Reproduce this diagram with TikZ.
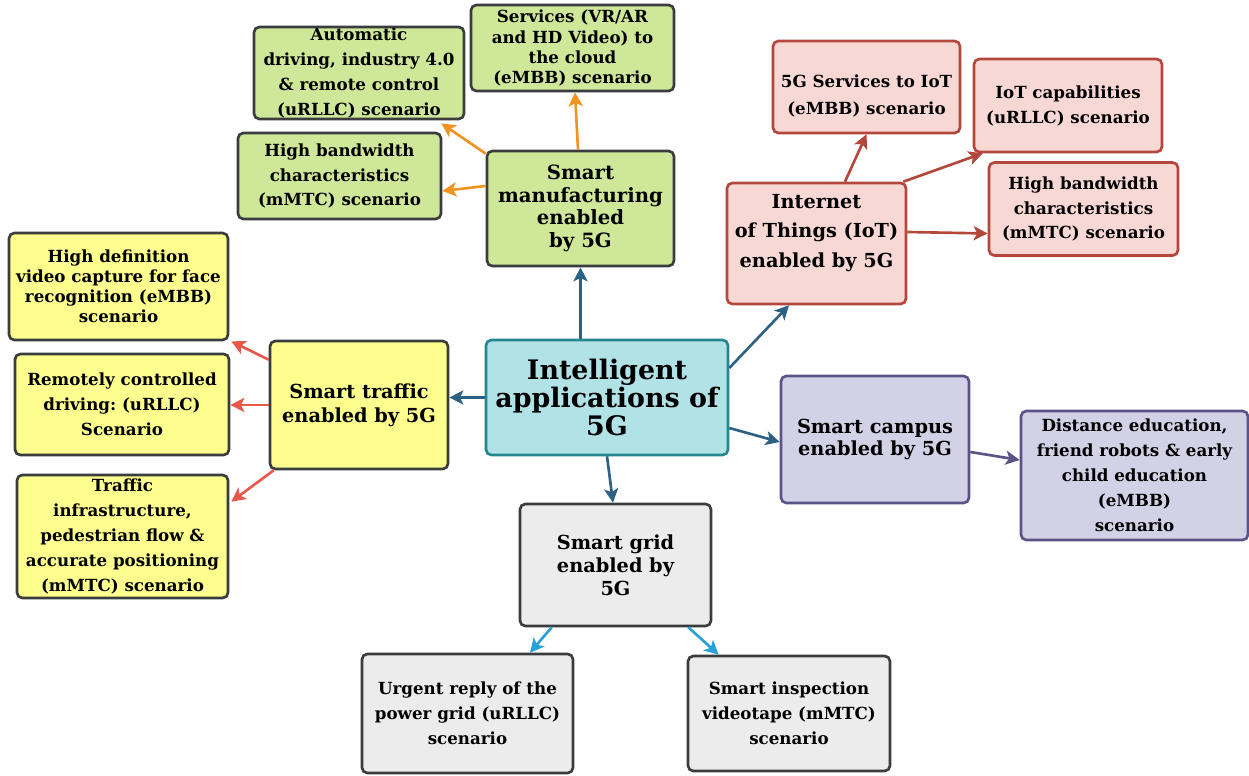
\documentclass[tikz,border=0pt]{standalone}
\usepackage{fontspec}
\setmainfont{DejaVu Serif}
\usetikzlibrary{arrows.meta,calc}
\definecolor{gfill}{HTML}{CFE798}
\definecolor{yfill}{HTML}{FEFE8E}
\definecolor{pfill}{HTML}{F8D8D4}
\definecolor{cfill}{HTML}{B1E2E6}
\definecolor{vfill}{HTML}{D3D1E5}
\definecolor{sfill}{HTML}{ECECEC}
\definecolor{dgray}{HTML}{3A3C3E}
\definecolor{redb}{HTML}{B4473B}
\definecolor{tealb}{HTML}{24878E}
\definecolor{purb}{HTML}{5B5287}
\definecolor{abl}{HTML}{2D6184}
\definecolor{aor}{HTML}{F2931F}
\definecolor{asal}{HTML}{E8584A}
\definecolor{alb}{HTML}{28A0D9}
\frenchspacing
\begin{document}
\begin{tikzpicture}[x=0.02cm,y=-0.02cm,
  box/.style={draw, rounded corners=3pt, line width=1.5pt, inner sep=0pt, align=center},
  leaf/.style={box, font=\bfseries\fontsize{9.5}{14.2}\selectfont},
  tight/.style={font=\bfseries\fontsize{9.5}{11.4}\selectfont},
  gbox/.style={fill=gfill, draw=dgray},
  ybox/.style={fill=yfill, draw=dgray},
  rbox/.style={fill=pfill, draw=redb},
  vbox/.style={fill=vfill, draw=purb},
  sbox/.style={fill=sfill, draw=dgray},
  txt/.style={inner sep=0pt, align=center},
  arr/.style={line width=1.5pt, -{Stealth[length=8pt,width=8pt,inset=2pt]}},
]
\useasboundingbox (0,0) rectangle (1249,776);

% central
\node[box, fill=cfill, draw=tealb, minimum width=4.84cm, minimum height=2.3cm,
  font=\bfseries\fontsize{15.3}{16}\selectfont] (cent) at (607,397.5)
  {Intelligent\\applications of\\5G};

% manufacturing group
\node[box, gbox, minimum width=3.74cm, minimum height=2.3cm,
  font=\bfseries\fontsize{11.2}{12.8}\selectfont] (manu) at (580.5,208.5)
  {Smart\\manufacturing\\enabled\\by 5G};
\node[leaf, gbox, minimum width=4.2cm, minimum height=1.84cm] (auto) at (359,73)
  {Automatic\\driving, industry 4.0\\\& remote control\\(uRLLC) scenario};
\node[leaf, gbox, tight, minimum width=4.06cm, minimum height=1.72cm] (serv) at (572.5,48)
  {Services (VR/AR\\and HD Video) to\\the cloud\\(eMBB) scenario};
\node[leaf, gbox, minimum width=4.06cm, minimum height=1.72cm] (hbg) at (339.5,176)
  {High bandwidth\\characteristics\\(mMTC) scenario};

% IoT group
\node[box, rbox, minimum width=3.58cm, minimum height=2.42cm] (iot) at (816.5,243.5) {};
\node[txt, font=\bfseries\fontsize{11}{17}\selectfont] (iott) at (816.5,233)
  {Internet\\of Things (IoT)\\enabled by 5G};
\node[leaf, rbox, minimum width=3.74cm, minimum height=1.84cm] (iots) at (866.5,87) {};
\node[txt, font=\bfseries\fontsize{9.5}{15}\selectfont] (iotst) at (866.5,96)
  {5G Services to IoT\\(eMBB) scenario};
\node[leaf, rbox, minimum width=3.76cm, minimum height=1.86cm] (iotc) at (1068,105.5)
  {IoT capabilities\\(uRLLC) scenario};
\node[leaf, rbox, minimum width=3.78cm, minimum height=1.86cm] (hbr) at (1083.5,209)
  {High bandwidth\\characteristics\\(mMTC) scenario};

% traffic group
\node[box, ybox, minimum width=3.56cm, minimum height=2.56cm,
  font=\bfseries\fontsize{11}{13.6}\selectfont] (traf) at (359,405)
  {Smart traffic\\enabled by 5G};
\node[leaf, ybox, tight, minimum width=4.38cm, minimum height=2.14cm] (hdv) at (118.5,286.5)
  {High definition\\video capture for face\\recognition (eMBB)\\scenario};
\node[leaf, ybox, minimum width=4.28cm, minimum height=2.02cm] (rem) at (122,404.5)
  {Remotely controlled\\driving: (uRLLC)\\Scenario};
\node[leaf, ybox, minimum width=4.22cm, minimum height=2.46cm] (tinf) at (122.5,536.5)
  {Traffic\\infrastructure,\\pedestrian flow \&\\accurate positioning\\(mMTC) scenario};

% campus group
\node[box, vbox, minimum width=3.76cm, minimum height=2.54cm,
  font=\bfseries\fontsize{11}{13}\selectfont] (camp) at (875,439.5)
  {Smart campus\\enabled by 5G};
\node[leaf, vbox, minimum width=4.54cm, minimum height=2.58cm] (dist) at (1134.5,475.5)
  {Distance education,\\friend robots \& early\\child education\\(eMBB)\\scenario};

% grid group
\node[box, sbox, minimum width=3.82cm, minimum height=2.44cm,
  font=\bfseries\fontsize{11}{13}\selectfont] (grid) at (615.5,565)
  {Smart grid\\enabled by\\5G};
\node[leaf, sbox, minimum width=4.22cm, minimum height=2.38cm] (urg) at (467.5,713.5)
  {Urgent reply of the\\power grid (uRLLC)\\scenario};
\node[leaf, sbox, minimum width=4.04cm, minimum height=2.3cm] (insp) at (789,713.5)
  {Smart inspection\\videotape (mMTC)\\scenario};

% connectors from centre
\draw[arr, abl] (manu.south |- cent.north) -- (manu.south);
\draw[arr, abl] ([yshift=0.59cm]cent.east) -- ([xshift=-0.55cm]iot.south);
\draw[arr, abl] (cent.west) -- (cent.west -| traf.east);
\draw[arr, abl] ([yshift=-0.61cm]cent.east) -- ([yshift=-0.05cm]camp.west);
\draw[arr, abl] (cent.south) -- ([xshift=-0.05cm]grid.north);

% manufacturing
\draw[arr, aor] ([yshift=-0.08cm]manu.north west) -- ([shift={(-0.48cm,-0.06cm)}]auto.south east);
\draw[arr, aor] ([yshift=0.45cm]manu.west) -- ([yshift=-0.3cm]hbg.east);
\draw[arr, aor] ([xshift=-0.05cm]manu.north) -- ([xshift=0.05cm]serv.south);

% IoT
\draw[arr, redb] ([xshift=0.57cm]iot.north) -- (iots.south);
\draw[arr, redb] ([xshift=-0.08cm]iot.north east) -- ([xshift=0.2cm]iotc.south west);
\draw[arr, redb] ([yshift=0.23cm]iot.east) -- ([yshift=-0.49cm]hbr.west);

% traffic
\draw[arr, asal] ([yshift=-0.4cm]traf.north west) -- ([xshift=0.04cm]hdv.south east);
\draw[arr, asal] (traf.west) -- (traf.west -| rem.east);
\draw[arr, asal] ([xshift=0.1cm]traf.south west) -- ([shift={(0.04cm,-0.56cm)}]tinf.north east);

% campus
\draw[arr, purb] ([yshift=-0.25cm]camp.east) -- ([yshift=0.31cm]dist.west);

% grid
\draw[arr, alb] ([xshift=0.66cm]grid.south west) -- ([xshift=1.25cm]urg.north);
\draw[arr, alb] ([xshift=-0.48cm]grid.south east) -- ([xshift=0.64cm]insp.north west);
\end{tikzpicture}
\end{document}
